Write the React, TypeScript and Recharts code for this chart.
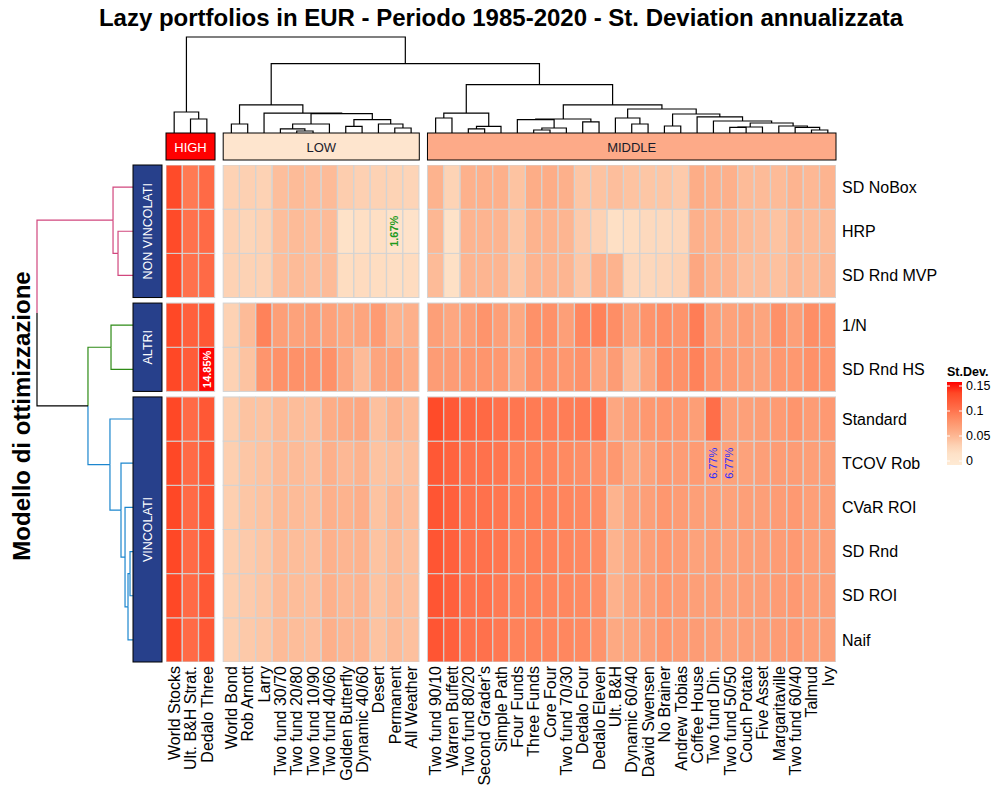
import React from 'react';
import { BarChart, Bar, XAxis, YAxis } from 'recharts';

const FONT = '"Liberation Sans", Arial, Helvetica, sans-serif';

// columns (portfolios), in dendrogram order
const columnNames = [
  'World Stocks', 'Ult. B&H Strat.', 'Dedalo Three',
  'World Bond', 'Rob Arnott', 'Larry', 'Two fund 30/70', 'Two fund 20/80', 'Two fund 10/90',
  'Two fund 40/60', 'Golden Butterfly', 'Dynamic 40/60', 'Desert', 'Permanent', 'All Weather',
  'Two fund 90/10', 'Warren Buffett', 'Two fund 80/20', "Second Grader's", 'Simple Path', 'Four Funds',
  'Three Funds', 'Core Four', 'Two fund 70/30', 'Dedalo Four', 'Dedalo Eleven', 'Ult. B&H',
  'Dynamic 60/40', 'David Swensen', 'No Brainer', 'Andrew Tobias', 'Coffee House', 'Two fund Din.',
  'Two fund 50/50', 'Couch Potato', 'Five Asset', 'Margaritaville', 'Two fund 60/40', 'Talmud', 'Ivy',
];
const columnGroups = [
  { name: 'HIGH', from: 0, to: 2 },
  { name: 'LOW', from: 3, to: 14 },
  { name: 'MIDDLE', from: 15, to: 39 },
];

// rows (optimisation models), top to bottom
const rowNames = ['SD NoBox', 'HRP', 'SD Rnd MVP', '1/N', 'SD Rnd HS', 'Standard', 'TCOV Rob', 'CVaR ROI', 'SD Rnd', 'SD ROI', 'Naif'];
const rowGroups = [
  { name: 'NON VINCOLATI', from: 0, to: 2 },
  { name: 'ALTRI', from: 3, to: 4 },
  { name: 'VINCOLATI', from: 5, to: 10 },
];

// annualised st. deviation, one array per row, same order as columnNames
const sdNoBox = [0.128, 0.095, 0.105, 0.035, 0.036, 0.035, 0.048, 0.050, 0.048, 0.050, 0.038, 0.036, 0.035, 0.034, 0.033, 0.056, 0.034, 0.057, 0.058, 0.058, 0.045, 0.060, 0.060, 0.058, 0.043, 0.045, 0.048, 0.045, 0.043, 0.043, 0.040, 0.060, 0.058, 0.058, 0.050, 0.050, 0.050, 0.055, 0.052, 0.055];
const hrp = [0.128, 0.100, 0.105, 0.035, 0.032, 0.035, 0.048, 0.050, 0.048, 0.050, 0.020, 0.023, 0.023, 0.0167, 0.019, 0.053, 0.020, 0.055, 0.055, 0.055, 0.043, 0.056, 0.056, 0.054, 0.040, 0.035, 0.022, 0.025, 0.028, 0.028, 0.030, 0.058, 0.056, 0.056, 0.050, 0.048, 0.045, 0.052, 0.050, 0.050];
const sdRndMvp = [0.128, 0.100, 0.105, 0.035, 0.035, 0.035, 0.048, 0.050, 0.048, 0.050, 0.025, 0.027, 0.025, 0.024, 0.026, 0.050, 0.022, 0.054, 0.054, 0.054, 0.043, 0.055, 0.055, 0.054, 0.042, 0.058, 0.056, 0.030, 0.030, 0.032, 0.035, 0.064, 0.056, 0.055, 0.048, 0.048, 0.046, 0.052, 0.050, 0.052];
const equalWeight = [0.130, 0.112, 0.118, 0.035, 0.050, 0.090, 0.070, 0.068, 0.070, 0.068, 0.063, 0.066, 0.073, 0.056, 0.058, 0.070, 0.064, 0.070, 0.078, 0.070, 0.063, 0.080, 0.080, 0.070, 0.087, 0.090, 0.082, 0.068, 0.078, 0.082, 0.078, 0.093, 0.070, 0.068, 0.070, 0.066, 0.080, 0.070, 0.082, 0.078];
const sdRndHs = [0.130, 0.115, 0.1485, 0.035, 0.045, 0.077, 0.080, 0.080, 0.079, 0.080, 0.064, 0.050, 0.066, 0.068, 0.060, 0.072, 0.072, 0.075, 0.077, 0.075, 0.064, 0.078, 0.078, 0.076, 0.080, 0.066, 0.072, 0.050, 0.065, 0.083, 0.080, 0.090, 0.078, 0.073, 0.070, 0.068, 0.075, 0.075, 0.080, 0.078];
const standard = [0.130, 0.105, 0.118, 0.037, 0.045, 0.045, 0.050, 0.049, 0.048, 0.060, 0.062, 0.064, 0.047, 0.055, 0.050, 0.128, 0.117, 0.108, 0.106, 0.100, 0.097, 0.094, 0.093, 0.093, 0.094, 0.097, 0.064, 0.070, 0.075, 0.077, 0.075, 0.071, 0.102, 0.069, 0.069, 0.071, 0.073, 0.077, 0.072, 0.074];
const tcovRob = [0.130, 0.105, 0.118, 0.037, 0.043, 0.045, 0.050, 0.050, 0.048, 0.058, 0.052, 0.056, 0.045, 0.047, 0.047, 0.118, 0.110, 0.100, 0.100, 0.097, 0.090, 0.090, 0.088, 0.085, 0.082, 0.078, 0.075, 0.063, 0.068, 0.075, 0.072, 0.073, 0.0677, 0.0677, 0.068, 0.070, 0.072, 0.072, 0.070, 0.070];
const cvarRoi = [0.130, 0.105, 0.118, 0.037, 0.043, 0.045, 0.051, 0.050, 0.049, 0.058, 0.056, 0.059, 0.045, 0.052, 0.048, 0.120, 0.112, 0.100, 0.100, 0.097, 0.092, 0.092, 0.090, 0.088, 0.086, 0.082, 0.056, 0.068, 0.070, 0.076, 0.072, 0.070, 0.070, 0.068, 0.070, 0.070, 0.072, 0.074, 0.070, 0.070];
const sdRnd = [0.130, 0.105, 0.118, 0.037, 0.040, 0.043, 0.050, 0.049, 0.048, 0.057, 0.054, 0.056, 0.045, 0.050, 0.047, 0.120, 0.112, 0.100, 0.100, 0.097, 0.090, 0.092, 0.090, 0.088, 0.086, 0.082, 0.056, 0.066, 0.070, 0.075, 0.072, 0.068, 0.070, 0.068, 0.070, 0.070, 0.072, 0.074, 0.070, 0.070];
const sdRoi = [0.130, 0.105, 0.118, 0.037, 0.040, 0.043, 0.050, 0.049, 0.048, 0.057, 0.053, 0.055, 0.045, 0.050, 0.047, 0.120, 0.112, 0.100, 0.100, 0.095, 0.090, 0.090, 0.088, 0.087, 0.085, 0.080, 0.057, 0.066, 0.070, 0.075, 0.072, 0.070, 0.070, 0.068, 0.070, 0.070, 0.072, 0.074, 0.070, 0.070];
const naif = [0.130, 0.105, 0.118, 0.037, 0.041, 0.043, 0.050, 0.049, 0.048, 0.058, 0.054, 0.055, 0.045, 0.050, 0.047, 0.120, 0.112, 0.100, 0.100, 0.096, 0.090, 0.090, 0.088, 0.087, 0.085, 0.078, 0.063, 0.066, 0.070, 0.076, 0.072, 0.072, 0.070, 0.068, 0.070, 0.070, 0.072, 0.074, 0.070, 0.070];
const values = [sdNoBox, hrp, sdRndMvp, equalWeight, sdRndHs, standard, tcovRob, cvarRoi, sdRnd, sdRoi, naif];

// cells with a printed value
const highlighted = [
  { row: 1, col: 13, kind: 'min' },
  { row: 4, col: 2, kind: 'max' },
  { row: 6, col: 32, kind: 'mid' },
  { row: 6, col: 33, kind: 'mid' },
];

// legend ticks
const legendTicks = [0, 0.05, 0.1, 0.15];

// dendrograms: [height, left, right], leaves are column / row indices
type Tree = number | [number, Tree, Tree];
const highTree: Tree = [0.219, 0, [0.146, 1, 2]];
const lowTree: Tree = [0.292, [0.094, 3, 4], [0.208, 5, [0.201, [0.094, [0.042, 6, [0.021, 7, 8]], 9], [0.139, [0.069, 10, 11], [0.094, 12, [0.052, 13, 14]]]]]];
const midLeft: Tree = [0.208, [0.156, 15, 16], [0.069, [0.042, 17, 18], 19]];
const midR1: Tree = [0.146, [0.139, 20, [0.052, [0.031, 21, 22], 23]], [0.115, 24, 25]];
const midTail: Tree = [0.104, [0.0625, [0.059, 33, 34], 35], [0.073, 36, [0.059, 37, [0.031, 38, 39]]]];
const midR2b: Tree = [0.198, [0.073, 29, 30], [0.167, 31, [0.125, 32, midTail]]];
const midR2: Tree = [0.25, [0.156, 26, [0.094, 27, 28]], midR2b];
const middleTree: Tree = [0.503, midLeft, [0.292, midR1, midR2]];
const columnTree: Tree = [1.0, highTree, [0.722, lowTree, middleTree]];
const rowTree: Tree = [1.0, [0.208, 0, [0.156, 1, 2]], [0.469, [0.229, 3, 4], [0.24, 5, [0.125, 6, [0.083, 7, [0.052, [0.031, 8, 9], 10]]]]]];

// ---- layout / styles ----
const W = 1000;
const H = 796;
const PLOT = { left: 166, top: 165, right: 836, bottom: 662 };
const X_DOMAIN: [number, number] = [-0.5, 40.5];
const ROW_GAP = 0.125;
const Y_MAX = rowNames.length + ROW_GAP * (rowGroups.length - 1);
const DEND_SPAN = 96;
const DEND_BASE = 133;

const colorStops: [number, number[]][] = [
  [0, [254, 234, 212]],
  [0.02, [254, 226, 200]],
  [0.035, [253, 210, 180]],
  [0.05, [253, 187, 152]],
  [0.065, [253, 166, 127]],
  [0.08, [254, 145, 105]],
  [0.09, [255, 130, 90]],
  [0.1, [255, 113, 76]],
  [0.115, [255, 92, 57]],
  [0.13, [255, 72, 38]],
  [0.15, [255, 0, 0]],
];
const stdevColor = (v: number) => {
  for (let i = 1; i < colorStops.length; i++) {
    const [v0, c0] = colorStops[i - 1];
    const [v1, c1] = colorStops[i];
    if (v <= v1) {
      const t = Math.max(0, (v - v0) / (v1 - v0));
      return `rgb(${c0.map((c, k) => Math.round(c + (c1[k] - c) * t)).join(',')})`;
    }
  }
  return 'rgb(255,0,0)';
};
const groupFill: Record<string, string> = { HIGH: '#FF0000', LOW: '#FEE5CE', MIDDLE: '#FDAA88' };
const groupText: Record<string, string> = { HIGH: '#FFFFFF', LOW: '#1a1a2a', MIDDLE: '#1a1a2a' };
const clusterColor = ['#D1477E', '#2E8B16', '#1C86CE'];
const markStyle: Record<string, { fill: string; weight: number }> = {
  min: { fill: '#1E9A1E', weight: 700 },
  max: { fill: '#FFFFFF', weight: 700 },
  mid: { fill: '#2B2BFF', weight: 400 },
};

// column positions (gaps between groups)
const colX = columnNames.map((_, i) => i + (i >= 3 ? 0.5 : 0) + (i >= 15 ? 0.5 : 0));

// row bases, stacked from the bottom
const rowBase: number[] = new Array(rowNames.length).fill(0);
const stackKeys: string[] = [];
{
  let acc = 0;
  for (let r = rowNames.length - 1; r >= 0; r--) {
    rowBase[r] = acc;
    acc += 1;
    stackKeys.push(`r${r}`);
    if (r > 0 && rowGroups.some((g) => g.from === r)) {
      acc += ROW_GAP;
      stackKeys.push(`gap${r}`);
    }
  }
}
const rowCenters = rowBase.map((b) => b + 0.5);

const data = columnNames.map((name, i) => {
  const d: Record<string, any> = { x: colX[i], col: i, name };
  stackKeys.forEach((k) => {
    d[k] = k.startsWith('gap') ? ROW_GAP : 1;
  });
  return d;
});

const xPix = (v: number) => PLOT.left + ((v - X_DOMAIN[0]) / (X_DOMAIN[1] - X_DOMAIN[0])) * (PLOT.right - PLOT.left);
const yPix = (v: number) => PLOT.bottom - (v / Y_MAX) * (PLOT.bottom - PLOT.top);

const makeCellShape = (r: number) => (props: any) => {
  const { x, y, width, height, payload } = props;
  const c = payload.col;
  const v = values[r][c];
  const mark = highlighted.find((h) => h.row === r && h.col === c);
  const st = mark ? markStyle[mark.kind] : null;
  return (
    <g>
      <rect x={x} y={y} width={width} height={height} fill={stdevColor(v)} stroke="#d3d3d3" strokeWidth={1} />
      {st && (
        <text
          transform={`translate(${x + width / 2},${y + height / 2}) rotate(-90)`}
          textAnchor="middle"
          dy="0.35em"
          fontSize={11}
          fontWeight={st.weight}
          fill={st.fill}
          fontFamily={FONT}
        >
          {`${(v * 100).toFixed(2)}%`}
        </text>
      )}
    </g>
  );
};

const ColumnTick = (props: any) => {
  const { x, y, payload } = props;
  const idx = colX.indexOf(payload.value);
  return (
    <text transform={`translate(${x},${y}) rotate(-90)`} textAnchor="end" dy="0.36em" fontSize={16} fill="#000" fontFamily={FONT}>
      {columnNames[idx]}
    </text>
  );
};

const RowTick = (props: any) => {
  const { x, y, payload } = props;
  const idx = rowCenters.indexOf(payload.value);
  return (
    <text x={x} y={y} dy="0.36em" textAnchor="start" fontSize={16} fill="#000" fontFamily={FONT}>
      {rowNames[idx]}
    </text>
  );
};

// top dendrogram (black)
const drawColumnTree = (t: Tree, out: React.ReactElement[]): { p: number; q: number } => {
  if (typeof t === 'number') return { p: xPix(colX[t]), q: DEND_BASE };
  const [h, a, b] = t;
  const A = drawColumnTree(a, out);
  const B = drawColumnTree(b, out);
  const q = DEND_BASE - h * DEND_SPAN;
  out.push(<path key={out.length} d={`M${A.p},${A.q}V${q}H${B.p}V${B.q}`} fill="none" stroke="#000" strokeWidth={1.2} />);
  return { p: (A.p + B.p) / 2, q };
};

// left dendrogram, coloured by row group
const rowCluster = rowNames.map((_, r) => rowGroups.findIndex((g) => r >= g.from && r <= g.to));
const drawRowTree = (t: Tree, out: React.ReactElement[]): { p: number; q: number; c: number } => {
  if (typeof t === 'number') return { p: DEND_BASE, q: yPix(rowCenters[t]), c: rowCluster[t] };
  const [h, a, b] = t;
  const A = drawRowTree(a, out);
  const B = drawRowTree(b, out);
  const p = DEND_BASE - h * DEND_SPAN;
  const q = (A.q + B.q) / 2;
  const colA = A.c >= 0 ? clusterColor[A.c] : '#000';
  const colB = B.c >= 0 ? clusterColor[B.c] : '#000';
  out.push(<path key={out.length + 'a'} d={`M${A.p},${A.q}H${p}V${q}`} fill="none" stroke={colA} strokeWidth={1.2} />);
  out.push(<path key={out.length + 'b'} d={`M${p},${q}V${B.q}H${B.p}`} fill="none" stroke={colB} strokeWidth={1.2} />);
  return { p, q, c: A.c === B.c ? A.c : -1 };
};

const Overlay = () => {
  const colSegs: React.ReactElement[] = [];
  drawColumnTree(columnTree, colSegs);
  const rowSegs: React.ReactElement[] = [];
  drawRowTree(rowTree, rowSegs);
  const barTop = 382;
  const barBottom = 465;
  const tick0 = 461;
  const tickMax = 386;
  const legendMax = legendTicks[legendTicks.length - 1];
  return (
    <svg width={W} height={H} style={{ position: 'absolute', left: 0, top: 0, pointerEvents: 'none' }}>
      <defs>
        <linearGradient id="stdevGrad" x1="0" y1="1" x2="0" y2="0">
          {colorStops.map(([v]) => (
            <stop key={v} offset={v / legendMax} stopColor={stdevColor(v)} />
          ))}
        </linearGradient>
      </defs>
      <text x={501} y={26} textAnchor="middle" fontSize={24} fontWeight={700} fontFamily={FONT} fill="#000">
        Lazy portfolios in EUR - Periodo 1985-2020 - St. Deviation annualizzata
      </text>
      <text transform="translate(30,416) rotate(-90)" textAnchor="middle" fontSize={24} fontWeight={700} fontFamily={FONT} fill="#000">
        Modello di ottimizzazione
      </text>
      {colSegs}
      {rowSegs}
      {columnGroups.map((g) => {
        const x0 = xPix(colX[g.from] - 0.5);
        const x1 = xPix(colX[g.to] + 0.5);
        return (
          <g key={g.name}>
            <rect x={x0} y={133} width={x1 - x0} height={27} fill={groupFill[g.name]} stroke="#000" strokeWidth={1} />
            <text x={(x0 + x1) / 2} y={147} dy="0.35em" textAnchor="middle" fontSize={13} fontFamily={FONT} fill={groupText[g.name]}>
              {g.name}
            </text>
          </g>
        );
      })}
      {rowGroups.map((g) => {
        const y0 = yPix(rowBase[g.from] + 1);
        const y1 = yPix(rowBase[g.to]);
        return (
          <g key={g.name}>
            <rect x={133} y={y0} width={29} height={y1 - y0} fill="#27408B" stroke="#000" strokeWidth={1} />
            <text
              transform={`translate(147.5,${(y0 + y1) / 2}) rotate(-90)`}
              dy="0.35em"
              textAnchor="middle"
              fontSize={12.5}
              fontFamily={FONT}
              fill="#fff"
            >
              {g.name}
            </text>
          </g>
        );
      })}
      <text x={947} y={376} fontSize={12.5} fontWeight={700} fontFamily={FONT} fill="#000">
        St.Dev.
      </text>
      <rect x={947} y={barTop} width={15} height={barBottom - barTop} fill="url(#stdevGrad)" />
      {legendTicks.map((t) => {
        const ty = tick0 - (t / legendMax) * (tick0 - tickMax);
        return (
          <g key={t}>
            <line x1={947} x2={950} y1={ty} y2={ty} stroke="#fff" strokeWidth={1} />
            <line x1={959} x2={962} y1={ty} y2={ty} stroke="#fff" strokeWidth={1} />
            <text x={966} y={ty} dy="0.35em" fontSize={12.5} fontFamily={FONT} fill="#000">
              {String(t)}
            </text>
          </g>
        );
      })}
    </svg>
  );
};

export default function App() {
  return (
    <div style={{ position: 'absolute', left: 0, top: 0, width: W, height: H, background: '#fff' }}>
      <BarChart
        width={W}
        height={H}
        data={data}
        margin={{ top: PLOT.top, left: PLOT.left, right: W - PLOT.right - 120, bottom: H - PLOT.bottom - 130 }}
        barCategoryGap={0}
        barGap={0}
      >
        <XAxis
          dataKey="x"
          type="number"
          domain={X_DOMAIN}
          allowDataOverflow
          ticks={colX}
          interval={0}
          height={130}
          tickSize={0}
          tickMargin={4}
          axisLine={false}
          tickLine={false}
          tick={<ColumnTick />}
        />
        <YAxis
          type="number"
          orientation="right"
          domain={[0, Y_MAX]}
          allowDataOverflow
          ticks={rowCenters}
          interval={0}
          width={120}
          tickSize={0}
          tickMargin={6}
          axisLine={false}
          tickLine={false}
          tick={<RowTick />}
        />
        {stackKeys.map((k) =>
          k.startsWith('gap') ? (
            <Bar key={k} dataKey={k} stackId="s" fill="transparent" isAnimationActive={false} />
          ) : (
            <Bar key={k} dataKey={k} stackId="s" isAnimationActive={false} shape={makeCellShape(Number(k.slice(1)))} />
          )
        )}
      </BarChart>
      <Overlay />
    </div>
  );
}
